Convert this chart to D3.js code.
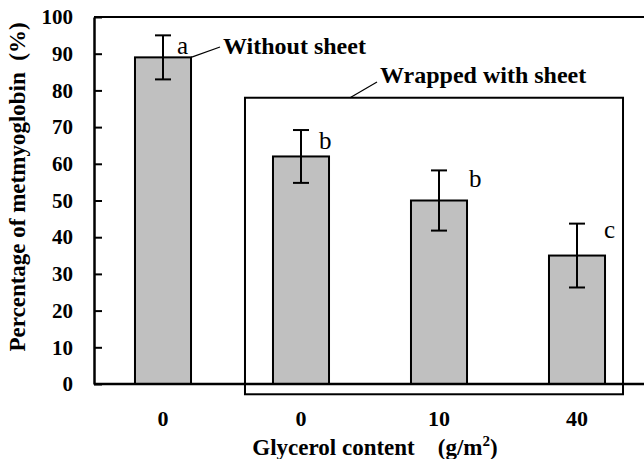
<!DOCTYPE html>
<html>
<head>
<meta charset="utf-8">
<script src="https://cdn.jsdelivr.net/npm/d3@7"></script>
<style>
  html, body { margin: 0; padding: 0; background: #fff; }
  svg { display: block; font-family: "Times New Roman", "Liberation Serif", serif; }
</style>
</head>
<body>
<div id="chart"></div>
<script>
// metmyoglobin after storage: unwrapped control vs. wrapped with sheets of varying glycerol
const categories = ['0', '0', '10', '40'];
const values = [89, 62, 50, 35];
const errors = [6, 7.2, 8.2, 8.7];
const letters = ['a', 'b', 'b', 'c'];
const yTicks = [0, 10, 20, 30, 40, 50, 60, 70, 80, 90, 100];

(function(){
  const W = 644, H = 459;
  const left = 94, right = 646, top = 17, bottom = 384;
  const serif = '"Times New Roman", "Liberation Serif", serif';

  const svg = d3.select('#chart').append('svg')
    .attr('width', W).attr('height', H);

  const x = d3.scaleBand().domain(d3.range(categories.length))
    .range([left, right]).paddingInner(0.594).paddingOuter(0.297);
  const y = d3.scaleLinear().domain([0, 100]).range([bottom, top]);
  const bw = x.bandwidth();

  // top frame line
  svg.append('line').attr('x1', left).attr('x2', W).attr('y1', top).attr('y2', top)
    .attr('stroke', '#000').attr('stroke-width', 2);

  // bracket box around wrapped samples
  const boxL = x(1) - 28, boxR = x(3) + bw + 18;
  svg.append('rect')
    .attr('x', boxL).attr('y', y(78))
    .attr('width', boxR - boxL).attr('height', y(-2.8) - y(78))
    .attr('fill', 'none').attr('stroke', '#000').attr('stroke-width', 2);

  // bars
  svg.append('g').selectAll('rect').data(values).join('rect')
    .attr('x', (d, i) => x(i)).attr('width', bw)
    .attr('y', d => y(d)).attr('height', d => y(0) - y(d))
    .attr('fill', '#c0c0c0').attr('stroke', '#000').attr('stroke-width', 2);

  // error bars
  const eb = svg.append('g').attr('stroke', '#000').attr('stroke-width', 2);
  values.forEach((v, i) => {
    const cx = x(i) + bw / 2;
    eb.append('line').attr('x1', cx).attr('x2', cx).attr('y1', y(v + errors[i])).attr('y2', y(v - errors[i]));
    eb.append('line').attr('x1', cx - 8).attr('x2', cx + 8).attr('y1', y(v + errors[i])).attr('y2', y(v + errors[i]));
    eb.append('line').attr('x1', cx - 8).attr('x2', cx + 8).attr('y1', y(v - errors[i])).attr('y2', y(v - errors[i]));
  });

  // significance letters
  const letterDx = [14, 18, 30, 27];
  const letterDy = [19, 19, 17, 14];
  svg.append('g').selectAll('text').data(letters).join('text')
    .attr('x', (d, i) => x(i) + bw / 2 + letterDx[i])
    .attr('y', (d, i) => y(values[i] + errors[i]) + letterDy[i])
    .attr('font-size', 25).text(d => d);

  // y axis
  const yAxis = svg.append('g').attr('transform', 'translate(' + left + ',0)')
    .call(d3.axisRight(y).tickValues(yTicks).tickSize(8).tickSizeOuter(0).tickFormat(d3.format('d')));
  yAxis.attr('font-family', serif);
  yAxis.select('.domain').attr('stroke-width', 2.5);
  yAxis.selectAll('.tick line').attr('stroke-width', 2);
  yAxis.selectAll('.tick text')
    .attr('x', -21).attr('text-anchor', 'end')
    .attr('font-size', 21).attr('font-weight', 'bold').attr('fill', '#000');

  // x baseline and labels
  svg.append('line').attr('x1', left).attr('x2', W).attr('y1', bottom).attr('y2', bottom)
    .attr('stroke', '#000').attr('stroke-width', 2.5);
  svg.append('g').selectAll('text').data(categories).join('text')
    .attr('x', (d, i) => x(i) + bw / 2).attr('y', 426)
    .attr('text-anchor', 'middle').attr('font-size', 22).attr('font-weight', 'bold')
    .text(d => d);

  // axis titles
  const xt = svg.append('text').attr('x', 375).attr('y', 455)
    .attr('text-anchor', 'middle').attr('font-size', 23).attr('font-weight', 'bold');
  xt.append('tspan').text('Glycerol content\u2003(g/m');
  xt.append('tspan').attr('dy', -9).attr('font-size', 15).text('2');
  xt.append('tspan').attr('dy', 9).text(')');

  svg.append('text')
    .attr('transform', 'translate(25,187) rotate(-90)')
    .attr('text-anchor', 'middle').attr('font-size', 23).attr('font-weight', 'bold')
    .text('Percentage of metmyoglobin\u2002(%)');

  // annotations
  svg.append('line').attr('x1', x(0) + bw).attr('y1', y(values[0]))
    .attr('x2', 220).attr('y2', 47).attr('stroke', '#000').attr('stroke-width', 1.2);
  svg.append('text').attr('x', 223).attr('y', 54)
    .attr('font-size', 24).attr('font-weight', 'bold').text('Without sheet');

  svg.append('line').attr('x1', 350).attr('y1', y(78))
    .attr('x2', 377).attr('y2', 82).attr('stroke', '#000').attr('stroke-width', 1.2);
  svg.append('text').attr('x', 380).attr('y', 83)
    .attr('font-size', 24).attr('font-weight', 'bold').text('Wrapped with sheet');
})();
</script>
</body>
</html>
